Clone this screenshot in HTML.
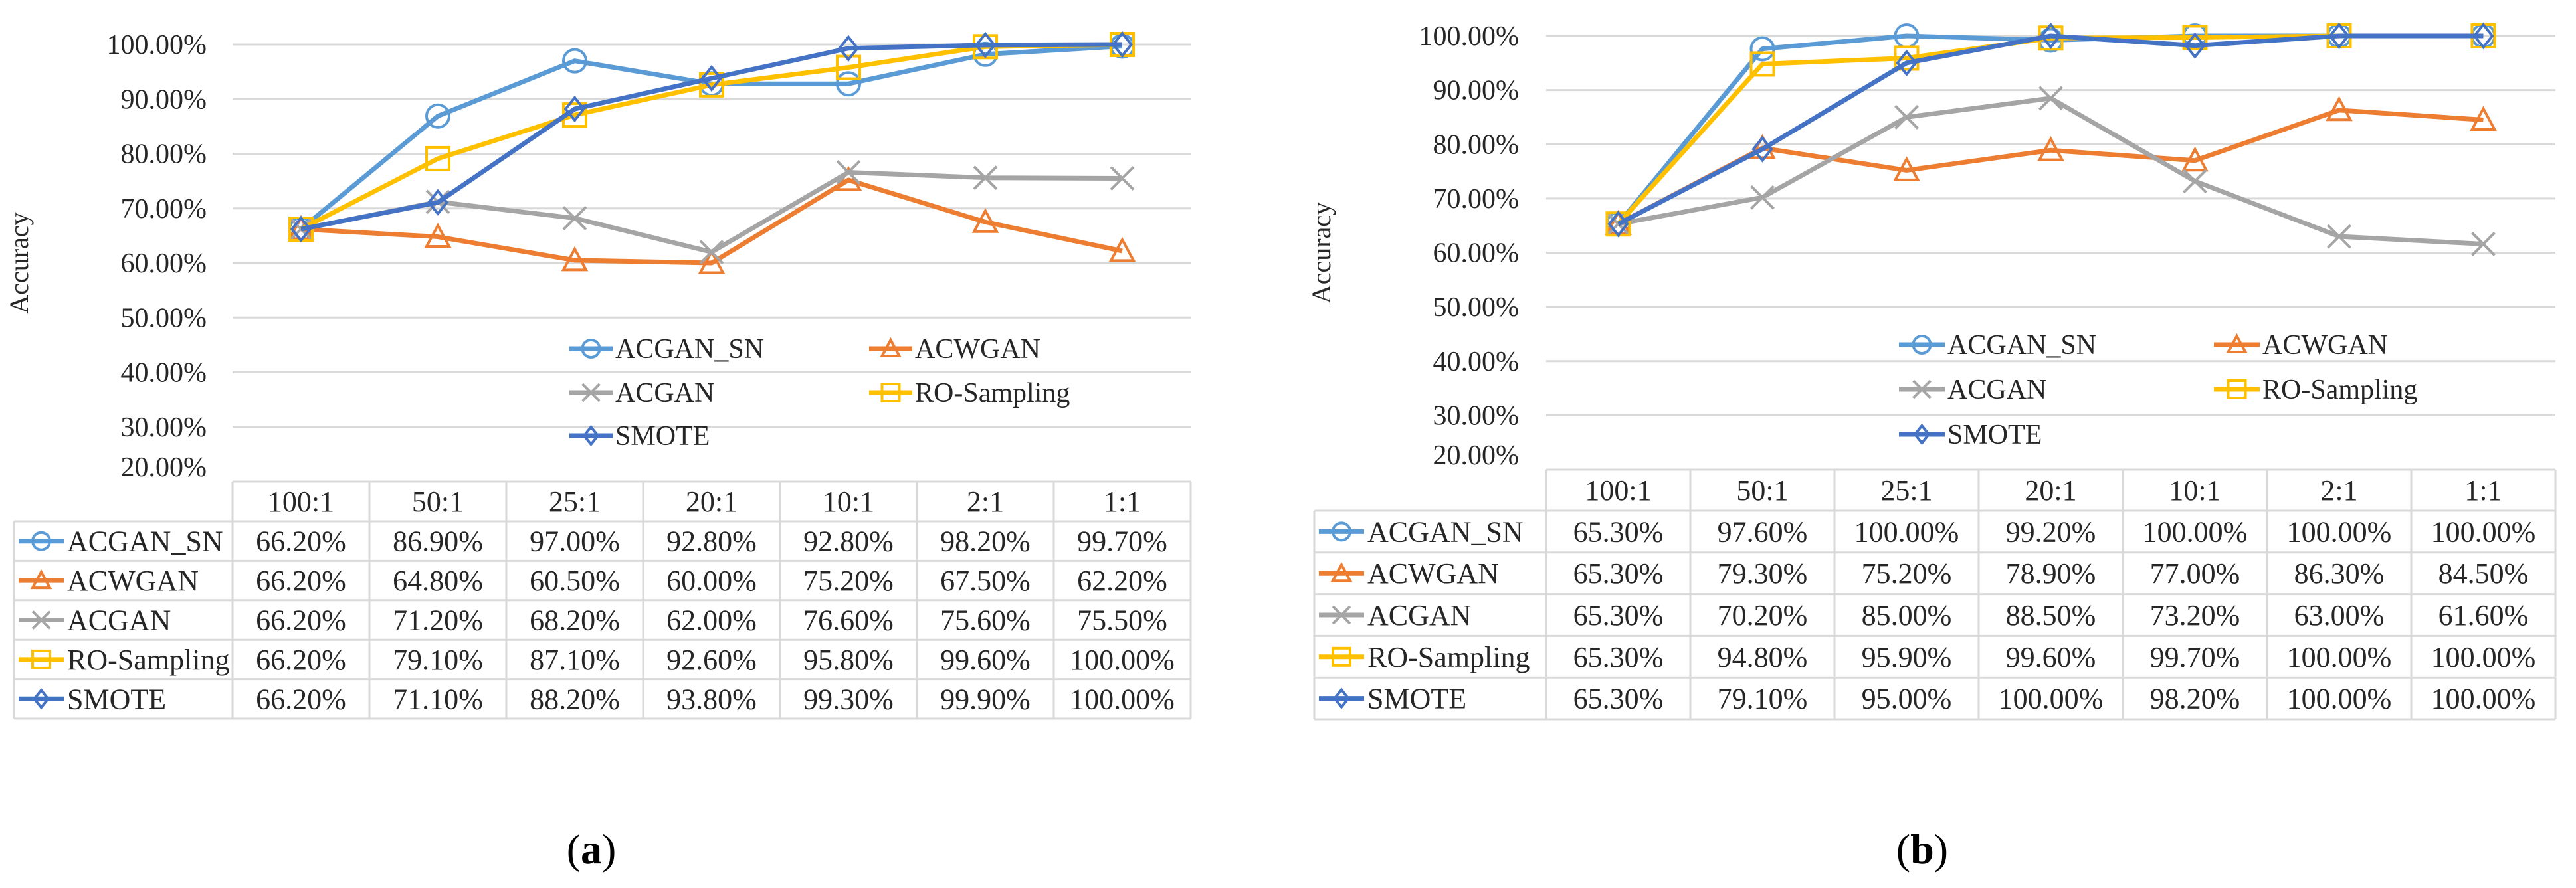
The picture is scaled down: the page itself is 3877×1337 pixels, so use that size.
<!DOCTYPE html>
<html><head><meta charset="utf-8">
<style>
html,body{margin:0;padding:0;background:#fff;}
svg, svg text{font-family:"Liberation Serif","Times New Roman",serif;}
</style></head>
<body>
<svg id="fig" width="3877" height="1332" viewBox="0 0 3877 1332" font-family="Liberation Serif, serif" xmlns="http://www.w3.org/2000/svg"></svg>
<script>
const categories = ["100:1","50:1","25:1","20:1","10:1","2:1","1:1"];
const seriesNames = ["ACGAN_SN","ACWGAN","ACGAN","RO-Sampling","SMOTE"];
const yTicks = [20,30,40,50,60,70,80,90,100];
// panel (a)
const a_ACGAN_SN = [66.2,86.9,97.0,92.8,92.8,98.2,99.7];
const a_ACWGAN = [66.2,64.8,60.5,60.0,75.2,67.5,62.2];
const a_ACGAN = [66.2,71.2,68.2,62.0,76.6,75.6,75.5];
const a_RO = [66.2,79.1,87.1,92.6,95.8,99.6,100.0];
const a_SMOTE = [66.2,71.1,88.2,93.8,99.3,99.9,100.0];
// panel (b)
const b_ACGAN_SN = [65.3,97.6,100.0,99.2,100.0,100.0,100.0];
const b_ACWGAN = [65.3,79.3,75.2,78.9,77.0,86.3,84.5];
const b_ACGAN = [65.3,70.2,85.0,88.5,73.2,63.0,61.6];
const b_RO = [65.3,94.8,95.9,99.6,99.7,100.0,100.0];
const b_SMOTE = [65.3,79.1,95.0,100.0,98.2,100.0,100.0];

const colors = ["#5B9BD5","#ED7D31","#A5A5A5","#FFC000","#4472C4"];
const markers = ["circle","triangle","x","square","diamond"];
const NS = "http://www.w3.org/2000/svg";
const svg = document.getElementById("fig");

function el(tag, attrs, parent){
  const e = document.createElementNS(NS, tag);
  for (const k in attrs) e.setAttribute(k, attrs[k]);
  (parent||svg).appendChild(e);
  return e;
}
function fmt(v){ return v.toFixed(2) + "%"; }

function drawMarker(g, type, cx, cy, color, s){
  let m;
  if (type==="circle") m = el("circle",{cx:cx,cy:cy,r:s,fill:"none",stroke:color,"stroke-width":4},g);
  else if (type==="triangle") m = el("polygon",{points:`${cx},${cy-s} ${cx+s},${cy+s*0.85} ${cx-s},${cy+s*0.85}`,fill:"none",stroke:color,"stroke-width":4},g);
  else if (type==="square") m = el("rect",{x:cx-s,y:cy-s,width:2*s,height:2*s,fill:"none",stroke:color,"stroke-width":4},g);
  else if (type==="diamond") m = el("polygon",{points:`${cx},${cy-s} ${cx+s*0.8},${cy} ${cx},${cy+s} ${cx-s*0.8},${cy}`,fill:"none",stroke:color,"stroke-width":4},g);
  else m = el("path",{d:`M${cx-s} ${cy-s}L${cx+s} ${cy+s}M${cx+s} ${cy-s}L${cx-s} ${cy+s}`,fill:"none",stroke:color,"stroke-width":4},g);
  
  
  return m;
}

function panel(P){
  const g = el("g",{"font-family":"Liberation Serif, serif"});
  
  
  const yOf = v => P.y20 - (v-20)/80*(P.y20-P.y100);
  const xOf = i => P.x0 + P.colW*(i+0.5);
  const xEnd = P.x0 + P.colW*categories.length;
  yTicks.forEach(t=>{
    const y = yOf(t);
    if (t>20){
      const l = el("line",{x1:P.x0,x2:xEnd,y1:y,y2:y,stroke:"#d9d9d9","stroke-width":3},g);
      
      
    }
    const tx = el("text",{x:P.labelRight,y:(t===20?y-8:y+14),"text-anchor":"end","font-size":42,fill:"#262626"},g);
    tx.textContent = fmt(t);
    
    
  });
  const at = el("text",{x:P.titleX,y:(P.y100+P.y20)/2,"text-anchor":"middle","font-size":40,fill:"#262626",transform:`rotate(-90 ${P.titleX} ${(P.y100+P.y20)/2})`},g);
  at.textContent = "Accuracy";
  
  
  seriesNames.forEach((n,i)=>{
    const col = i%2, row = Math.floor(i/2);
    const lx = P.legCols[col], ly = P.legRows[row];
    const lg = el("g",{},g);
    
    
    el("line",{x1:lx,x2:lx+P.legKeyW,y1:ly,y2:ly,stroke:colors[i],"stroke-width":7},lg);
    drawMarker(lg, markers[i], lx+P.legKeyW/2, ly, colors[i], 13);
    const t = el("text",{x:lx+P.legKeyW+4,y:ly+14,"font-size":42,fill:"#262626"},lg);
    t.textContent = n;
  });
  P.data.forEach((vals,si)=>{
    const sg = el("g",{},g);
    
    
    const pts = vals.map((v,i)=>xOf(i)+","+yOf(v)).join(" ");
    const pl = el("polyline",{points:pts,fill:"none",stroke:colors[si],"stroke-width":7,"stroke-linejoin":"round"},sg);
    
    
    vals.forEach((v,i)=>drawMarker(sg, markers[si], xOf(i), yOf(v), colors[si], 17));
  });
  const tg = el("g",{},g);
  
  
  const hTop = P.y20, hBot = P.hBot, rowH = (P.tBot - hBot)/5;
  const bc = "#d9d9d9";
  el("line",{x1:P.x0,x2:xEnd,y1:hTop,y2:hTop,stroke:bc,"stroke-width":3},tg);
  for (let r=0;r<=5;r++){
    const y = hBot + r*rowH;
    el("line",{x1:P.tx0,x2:xEnd,y1:y,y2:y,stroke:bc,"stroke-width":3},tg);
  }
  for (let c=0;c<=categories.length;c++){
    const x = P.x0 + c*P.colW;
    el("line",{x1:x,x2:x,y1:hTop,y2:P.tBot,stroke:bc,"stroke-width":3},tg);
  }
  el("line",{x1:P.tx0,x2:P.tx0,y1:hBot,y2:P.tBot,stroke:bc,"stroke-width":3},tg);
  categories.forEach((c,i)=>{
    const t = el("text",{x:xOf(i),y:(hTop+hBot)/2+15,"text-anchor":"middle","font-size":44,fill:"#262626"},tg);
    t.textContent = c;
    
    
  });
  P.data.forEach((vals,si)=>{
    const cy = hBot + rowH*(si+0.5);
    el("line",{x1:P.tx0+7,x2:P.tx0+75,y1:cy,y2:cy,stroke:colors[si],"stroke-width":7},tg);
    drawMarker(tg, markers[si], P.tx0+41, cy, colors[si], 13);
    const nt = el("text",{x:P.tx0+80,y:cy+15,"font-size":44,fill:"#262626"},tg);
    nt.textContent = seriesNames[si];
    
    
    vals.forEach((v,i)=>{
      const t = el("text",{x:xOf(i),y:cy+15,"text-anchor":"middle","font-size":44,fill:"#262626"},tg);
      t.textContent = fmt(v);
      
      
    });
  });
  const cap = el("text",{x:P.capX,y:1300,"text-anchor":"middle","font-size":64,fill:"#000"},g);
  
  
  const s1 = el("tspan",{},cap); s1.textContent="(";
  const s2 = el("tspan",{"font-weight":"bold"},cap); s2.textContent=P.letter;
  const s3 = el("tspan",{},cap); s3.textContent=")";
}

panel({name:"panel-a",letter:"a",x0:350,colW:206,y100:67,y20:725,hBot:785,tBot:1082,tx0:21,labelRight:311,titleX:42,
  legCols:[857,1308],legRows:[525,591,656],legKeyW:65,capX:890,
  data:[a_ACGAN_SN,a_ACWGAN,a_ACGAN,a_RO,a_SMOTE]});
panel({name:"panel-b",letter:"b",x0:2327,colW:217,y100:54,y20:707,hBot:769,tBot:1083,tx0:1978,labelRight:2286,titleX:2002,
  legCols:[2858,3332],legRows:[519,586,654],legKeyW:69,capX:2893,
  data:[b_ACGAN_SN,b_ACWGAN,b_ACGAN,b_RO,b_SMOTE]});
</script>
</body></html>
